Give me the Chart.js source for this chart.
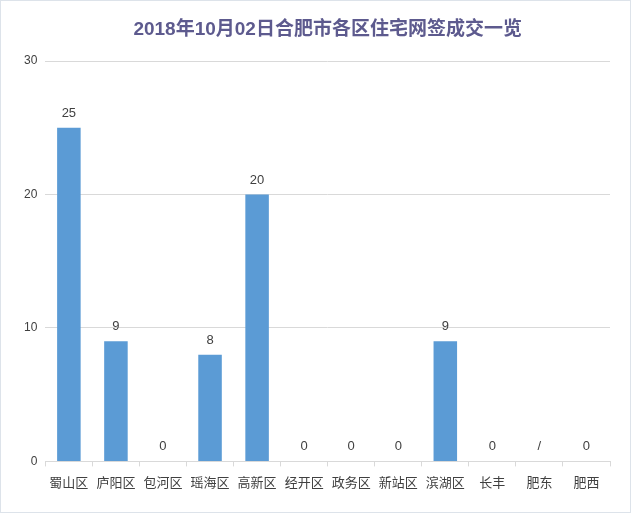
<!DOCTYPE html>
<html>
<head>
<meta charset="utf-8">
<script src="https://cdn.jsdelivr.net/npm/chart.js@4"></script>
<style>
  html, body { margin: 0; padding: 0; background: #fff; }
  #wrap { width: 631px; height: 513px; box-sizing: border-box; border: 1px solid #dde3ea; position: relative; }
  canvas { display: block; }
</style>
</head>
<body>
<div id="wrap"><canvas id="myChart" width="629" height="511"></canvas></div>
<script>
const districts = ['蜀山区', '庐阳区', '包河区', '瑶海区', '高新区', '经开区', '政务区', '新站区', '滨湖区', '长丰', '肥东', '肥西'];
const deals = [25, 9, 0, 8, 20, 0, 0, 0, 9, 0, null, 0];
const dealLabels = ['25', '9', '0', '8', '20', '0', '0', '0', '9', '0', '/', '0'];
const yTicks = [0, 10, 20, 30];
const chartTitle = '2018年10月02日合肥市各区住宅网签成交一览';

// labels on top of each bar + title centred over the plot
const topLabels = {
  id: 'topLabels',
  afterDatasetsDraw(chart) {
    const { ctx, chartArea } = chart;
    const meta = chart.getDatasetMeta(0);
    const yScale = chart.scales.y;
    ctx.save();
    ctx.font = '13px "Liberation Sans", Arial, sans-serif';
    ctx.fillStyle = '#404040';
    ctx.textAlign = 'center';
    ctx.textBaseline = 'bottom';
    meta.data.forEach((bar, i) => {
      const v = deals[i] == null ? 0 : deals[i];
      ctx.fillText(dealLabels[i], bar.x, yScale.getPixelForValue(v) - 8);
    });
    ctx.font = 'bold 19px "Liberation Sans", Arial, "Noto Sans CJK SC", sans-serif';
    ctx.fillStyle = '#5d5a8e';
    ctx.textBaseline = 'middle';
    ctx.fillText(chartTitle, (chartArea.left + chartArea.right) / 2, 29);
    ctx.restore();
  },
};

window.addEventListener('DOMContentLoaded', () => {
  const ctx = document.getElementById('myChart');
  new Chart(ctx, {
    type: 'bar',
    data: {
      labels: districts,
      datasets: [{
        data: deals,
        backgroundColor: '#5b9bd5',
        categoryPercentage: 1,
        barPercentage: 0.5,
      }],
    },
    options: {
      responsive: false,
      animation: false,
      layout: { padding: { left: 15, right: 20, top: 60, bottom: 14 } },
      plugins: {
        legend: { display: false },
        tooltip: { enabled: false },
        title: { display: false },
      },
      scales: {
        x: {
          offset: true,
          grid: { display: true, drawOnChartArea: false, drawTicks: true, tickLength: 5, color: '#d9d9d9', offset: true },
          border: { color: '#d9d9d9' },
          ticks: { color: '#404040', font: { size: 13, family: '"Noto Sans CJK SC", sans-serif' }, padding: 8, maxRotation: 0, autoSkip: false },
        },
        y: {
          min: 0,
          max: 30,
          afterBuildTicks(scale) { scale.ticks = yTicks.map((v) => ({ value: v })); },
          grid: { color: '#d9d9d9', drawTicks: false },
          border: { display: false },
          ticks: { color: '#404040', font: { size: 12, family: '"Liberation Sans", Arial, sans-serif' }, padding: 8 },
        },
      },
    },
    plugins: [topLabels],
  });
});
</script>
</body>
</html>
